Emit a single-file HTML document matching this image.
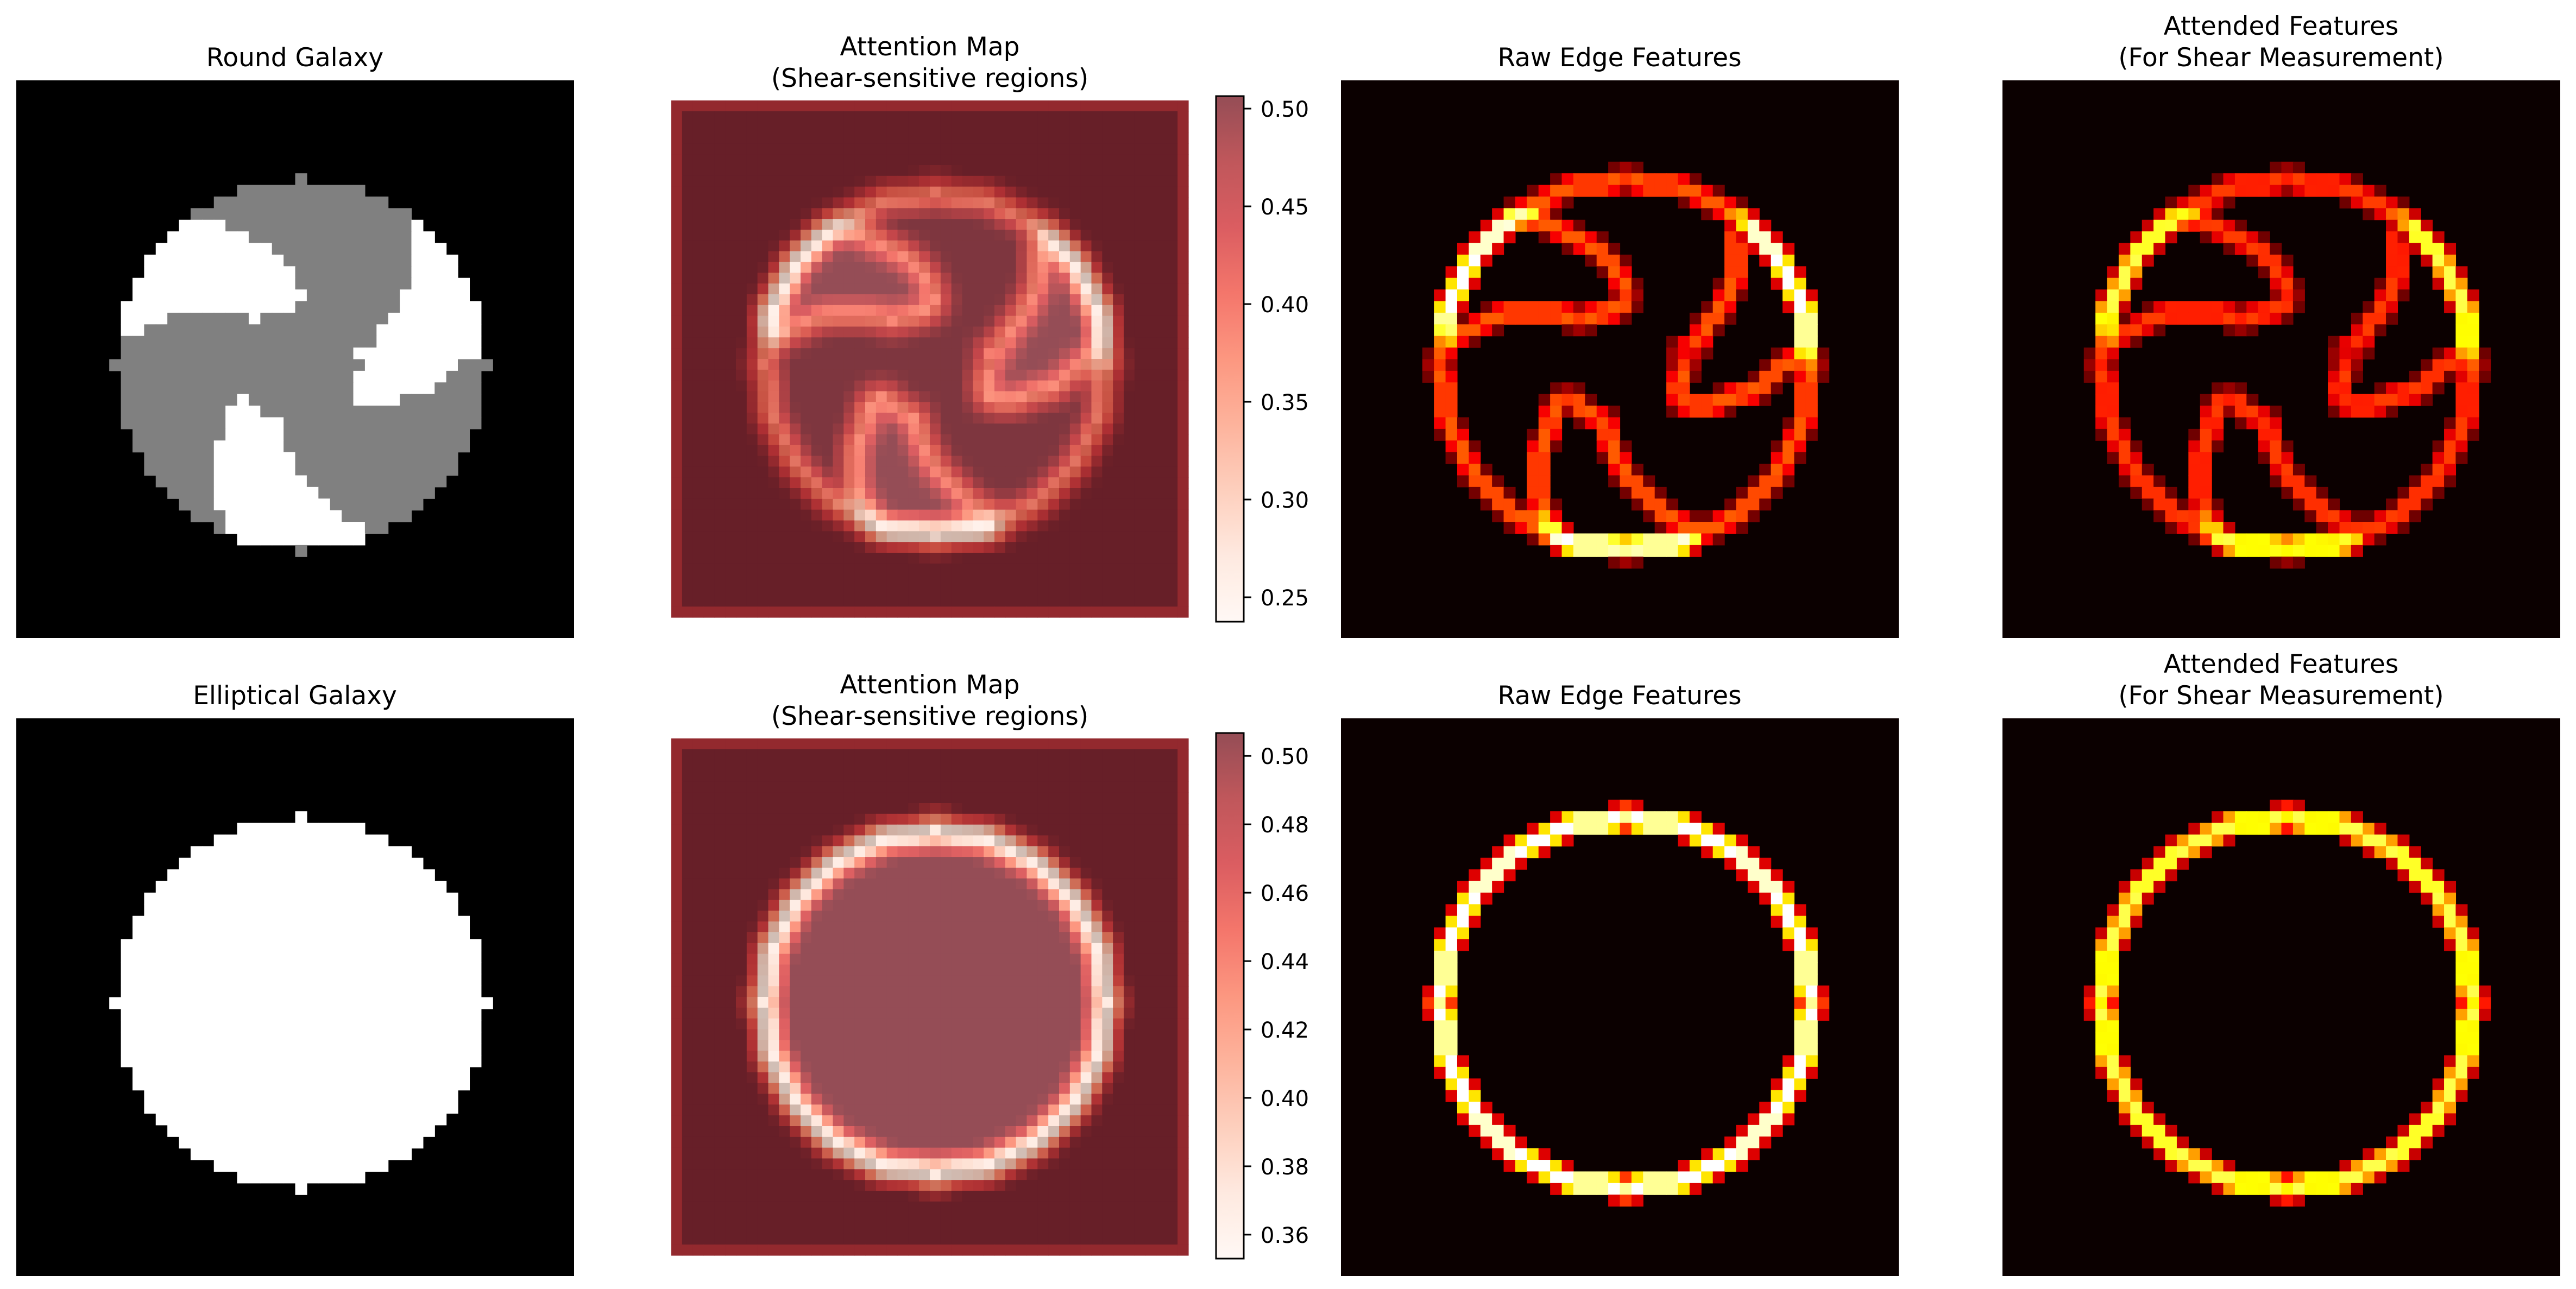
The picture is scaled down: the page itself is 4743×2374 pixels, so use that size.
<!DOCTYPE html>
<html><head><meta charset="utf-8"><title>Galaxy attention</title>
<style>html,body{margin:0;padding:0;background:#fff}svg{display:block}text{font-family:"DejaVu Sans","Liberation Sans",sans-serif;fill:#000}</style>
</head><body>
<svg id="fig" xmlns="http://www.w3.org/2000/svg" width="4743" height="2374" viewBox="0 0 4743 2374">
<rect x="0" y="0" width="4743" height="2374" fill="#fff"/>
<defs></defs>
<g id="titles">
<text x="543" y="122" font-size="47" text-anchor="middle">Round Galaxy</text>
<text x="1712" y="102" font-size="47" text-anchor="middle">Attention Map</text>
<text x="1712" y="160" font-size="47" text-anchor="middle">(Shear-sensitive regions)</text>
<text x="2982" y="122" font-size="47" text-anchor="middle">Raw Edge Features</text>
<text x="4200" y="64" font-size="47" text-anchor="middle">Attended Features</text>
<text x="4200" y="122" font-size="47" text-anchor="middle">(For Shear Measurement)</text>
<text x="543" y="1297" font-size="47" text-anchor="middle">Elliptical Galaxy</text>
<text x="1712" y="1277" font-size="47" text-anchor="middle">Attention Map</text>
<text x="1712" y="1335" font-size="47" text-anchor="middle">(Shear-sensitive regions)</text>
<text x="2982" y="1297" font-size="47" text-anchor="middle">Raw Edge Features</text>
<text x="4200" y="1239" font-size="47" text-anchor="middle">Attended Features</text>
<text x="4200" y="1297" font-size="47" text-anchor="middle">(For Shear Measurement)</text>
</g>
</svg>
<script>
// ---- data ----
// spiral galaxy rows: [row, [colStart, colEnd, value(1=gray,2=white)], ...]
const spiralRuns = [
[8,[24,24,1]],[9,[19,29,1]],[10,[17,31,1]],[11,[15,33,1]],
[12,[14,17,2],[18,33,1],[34,34,2]],
[13,[13,19,2],[20,33,1],[34,35,2]],
[14,[12,21,2],[22,33,1],[34,36,2]],
[15,[11,22,2],[23,33,1],[34,37,2]],
[16,[11,23,2],[24,33,1],[34,37,2]],
[17,[10,23,2],[24,33,1],[34,38,2]],
[18,[10,24,2],[25,32,1],[33,38,2]],
[19,[9,23,2],[24,32,1],[33,39,2]],
[20,[9,12,2],[13,19,1],[20,20,2],[21,31,1],[32,39,2]],
[21,[9,10,2],[11,30,1],[31,39,2]],
[22,[9,30,1],[31,39,2]],
[23,[9,28,1],[29,39,2]],
[24,[8,29,1],[30,37,2],[38,40,1]],
[25,[9,28,1],[29,36,2],[37,39,1]],
[26,[9,28,1],[29,35,2],[36,39,1]],
[27,[9,18,1],[19,19,2],[20,28,1],[29,32,2],[33,39,1]],
[28,[9,17,1],[18,20,2],[21,39,1]],
[29,[9,17,1],[18,22,2],[23,39,1]],
[30,[10,17,1],[18,22,2],[23,38,1]],
[31,[10,16,1],[17,22,2],[23,38,1]],
[32,[11,16,1],[17,23,2],[24,37,1]],
[33,[11,16,1],[17,23,2],[24,37,1]],
[34,[12,16,1],[17,24,2],[25,36,1]],
[35,[13,16,1],[17,25,2],[26,35,1]],
[36,[14,16,1],[17,26,2],[27,34,1]],
[37,[15,17,1],[18,27,2],[28,33,1]],
[38,[17,17,1],[18,29,2],[30,31,1]],
[39,[19,29,2]],[40,[24,24,1]]
];
const gridSize = 48;
const cbarRange1 = [0.2375, 0.5064];
const cbarRange2 = [0.353, 0.5067];
const cbarTicks1 = [0.25, 0.30, 0.35, 0.40, 0.45, 0.50];
const cbarTicks2 = [0.36, 0.38, 0.40, 0.42, 0.44, 0.46, 0.48, 0.50];

// ---- layout ----
const NS = 'http://www.w3.org/2000/svg';
const svg = document.getElementById('fig');
const N = gridSize;
const rowsY = [148, 1323];
const attY = [185, 1360];
const cbY = [[177, 1145], [1350, 2318]];

function mk(tag, attrs, parent) {
  const el = document.createElementNS(NS, tag);
  for (const k in attrs) el.setAttribute(k, attrs[k]);
  (parent || svg).appendChild(el);
  return el;
}
function grid() { return Array.from({length: N}, () => new Array(N).fill(0)); }

function buildGalaxy(runs, whiteOnly) {
  const g = grid();
  runs.forEach(r => {
    const row = r[0];
    for (let k = 1; k < r.length; k++) {
      for (let c = r[k][0]; c <= r[k][1]; c++) g[row][c] = whiteOnly ? 1 : r[k][2] / 2;
    }
  });
  return g;
}
function sobel(g) {
  const e = grid(); let mx = 0;
  const at = (i, j) => (i < 0 || j < 0 || i >= N || j >= N) ? 0 : g[i][j];
  for (let i = 0; i < N; i++) for (let j = 0; j < N; j++) {
    const gx = (at(i-1,j+1)+2*at(i,j+1)+at(i+1,j+1)) - (at(i-1,j-1)+2*at(i,j-1)+at(i+1,j-1));
    const gy = (at(i+1,j-1)+2*at(i+1,j)+at(i+1,j+1)) - (at(i-1,j-1)+2*at(i-1,j)+at(i-1,j+1));
    e[i][j] = Math.hypot(gx, gy); if (e[i][j] > mx) mx = e[i][j];
  }
  for (let i = 0; i < N; i++) for (let j = 0; j < N; j++) e[i][j] /= mx;
  return e;
}
function attention(e) {
  const t = grid();
  const at = (i, j) => (i < 0 || j < 0 || i >= N || j >= N) ? 0 : e[i][j];
  for (let i = 0; i < N; i++) for (let j = 0; j < N; j++) {
    const b = (4*at(i,j) + 2*(at(i-1,j)+at(i+1,j)+at(i,j-1)+at(i,j+1)) + at(i-1,j-1)+at(i-1,j+1)+at(i+1,j-1)+at(i+1,j+1)) / 16;
    let v = 1 - 1.25 * b;
    if (i === 0 || j === 0 || i === N-1 || j === N-1) v = 0.87;
    t[i][j] = Math.max(0, Math.min(1, v));
  }
  return t;
}
const REDS = [[255,245,240],[254,224,210],[252,187,161],[252,146,114],[251,106,74],[239,59,44],[203,24,29],[165,15,21],[103,0,13]];
function reds(t) {
  t = Math.max(0, Math.min(1, t)) * 8; const k = Math.min(7, Math.floor(t)); const f = t - k;
  return REDS[k].map((c, i) => c + (REDS[k+1][i] - c) * f);
}
function hot(v) {
  const r = Math.min(1, 0.0416 + v / 0.365 * (1 - 0.0416));
  const g = Math.max(0, Math.min(1, (v - 0.365) / 0.381));
  const b = Math.max(0, Math.min(1, (v - 0.746) / 0.254));
  return [r*255, g*255, b*255];
}
const rgb = c => 'rgb(' + c.map(x => Math.round(x)).join(',') + ')';

function drawImage(mat, x0, y0, size, colorFn, name, bg) {
  const grp = mk('g', {});
  
  
  const s = size / N;
  const bgRect = mk('rect', {x: x0, y: y0, width: size, height: size, fill: bg}, grp);
  
  
  for (let i = 0; i < N; i++) for (let j = 0; j < N; j++) {
    const col = colorFn(mat[i][j], i, j);
    if (col === bg) continue;
    const r = mk('rect', {x: (x0 + j*s).toFixed(2), y: (y0 + i*s).toFixed(2), width: (s+0.6).toFixed(2), height: (s+0.6).toFixed(2), fill: col}, grp);
    
    
  }
}

function drawColorbar(rowIdx, range, ticks) {
  const [y0, y1] = cbY[rowIdx]; const x0 = 2239, x1 = 2290;
  const grad = mk('linearGradient', {id: 'cbgrad' + rowIdx, x1: 0, y1: 1, x2: 0, y2: 0}, svg.querySelector('defs'));
  for (let k = 0; k <= 16; k++) {
    const c = reds(k/16).map(v => 0.7*v + 0.3*255);
    mk('stop', {offset: (k/16).toFixed(3), 'stop-color': rgb(c)}, grad);
  }
  const g = mk('g', {});
  
  
  const bar = mk('rect', {x: x0, y: y0, width: x1-x0, height: y1-y0, fill: 'url(#cbgrad' + rowIdx + ')', stroke: '#000', 'stroke-width': 3}, g);
  
  
  const yOf = v => y1 - (v - range[0]) / (range[1] - range[0]) * (y1 - y0);
  ticks.forEach(v => {
    const y = yOf(v);
    const tk = mk('line', {x1: x1, x2: x1 + 14, y1: y, y2: y, stroke: '#000', 'stroke-width': 3}, g);
    
    
    const tx = mk('text', {x: x1 + 31, y: y + 15, 'font-size': 40}, g);
    tx.textContent = v.toFixed(2);
    
    
  });
}

function drawRow(rowIdx, gal, range) {
  const y = rowsY[rowIdx];
  const e = sobel(gal);
  const t = attention(e);
  drawImage(gal, 30, y, 1027, v => v === 0 ? '#000000' : rgb([v*255, v*255, v*255]), rowIdx === 0 ? 'round-galaxy-image' : 'elliptical-galaxy-image', '#000000');
  drawImage(t, 1236, attY[rowIdx], 952, (v, i, j) => {
    const base = 255 * (0.4 + 0.6 * gal[i][j]);
    return rgb(reds(v).map(c => 0.7*c + 0.3*base));
  }, 'attention-map-' + (rowIdx+1), '#none');
  drawImage(e, 2469, y, 1027, v => rgb(hot(v)), 'raw-edge-features-' + (rowIdx+1), rgb(hot(0)));
  const a = grid();
  for (let i = 0; i < N; i++) for (let j = 0; j < N; j++) {
    a[i][j] = e[i][j] * (0.8 + 0.2 * t[i][j]);
  }
  drawImage(a, 3687, y, 1027, v => rgb(hot(v)), 'attended-features-' + (rowIdx+1), rgb(hot(0)));
}

drawRow(0, buildGalaxy(spiralRuns, false), cbarRange1);
drawRow(1, buildGalaxy(spiralRuns, true), cbarRange2);
drawColorbar(0, cbarRange1, cbarTicks1);
drawColorbar(1, cbarRange2, cbarTicks2);
</script>
</body></html>
